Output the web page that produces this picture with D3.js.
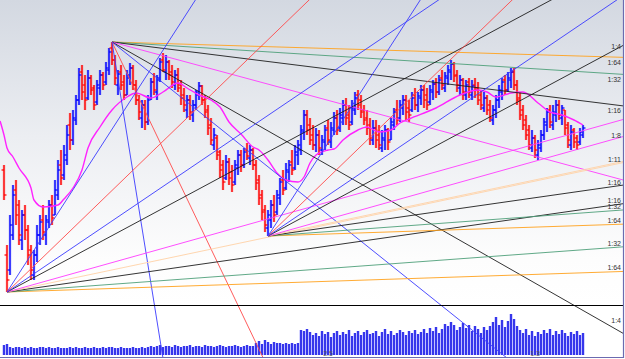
<!DOCTYPE html>
<html><head><meta charset="utf-8">
<script src="https://cdn.jsdelivr.net/npm/d3@7/dist/d3.min.js"></script>
<style>html,body{margin:0;padding:0;background:#fff;overflow:hidden}</style>
</head><body>
<svg id="c" width="625" height="359"></svg>
<script>
// ---------- DATA ----------
const hi=[135,55,85,115,120,100,90,95,75,55,50,75,85,95,85,100,105,120,140,150,155,175,187,190,205,232,235,225,230,225,215,220,230,228,238,252,258,245,230,235,225,230,237,235,220,205,200,200,205,222,227,225,242,247,245,240,235,230,232,220,212,205,205,200,210,218,215,205,195,182,172,165,150,140,145,142,135,140,150,150,152,157,155,152,140,125,110,95,90,100,105,110,122,130,137,140,150,155,160,175,190,190,182,175,172,170,165,175,180,178,188,190,192,200,202,195,200,208,210,205,195,190,182,180,180,175,170,175,172,182,192,200,200,205,205,200,208,212,208,215,215,212,215,220,222,225,230,228,235,240,238,230,225,222,220,222,220,222,218,210,208,205,200,195,205,215,222,225,228,232,232,220,208,195,185,175,170,165,160,170,182,192,195,195,200,200,195,190,178,175,172,165,172,175];
const lo=[100,8,25,60,75,55,50,60,35,20,20,38,55,60,55,72,75,85,100,115,120,135,150,155,175,195,200,190,200,205,190,195,205,210,215,225,235,215,205,210,200,205,215,210,195,180,172,170,175,200,205,200,218,228,220,220,212,210,208,195,188,182,180,178,190,200,195,182,165,155,150,140,122,110,120,115,108,115,125,128,132,140,135,130,110,95,80,68,64,72,78,85,95,105,110,118,125,130,135,145,160,165,155,150,148,145,145,150,155,152,165,165,168,175,175,170,175,185,190,182,175,165,155,155,152,150,148,150,150,160,170,175,178,185,180,178,188,190,188,195,192,190,195,200,202,205,210,208,215,220,218,208,205,200,200,202,200,202,195,190,188,185,178,175,182,192,200,205,208,212,210,195,180,170,160,150,148,142,140,148,160,168,172,170,178,180,175,165,152,150,152,150,155,162];
const op=[130,45,30,65,110,95,60,85,70,50,25,45,65,80,65,78,95,85,105,135,125,140,175,160,180,200,228,215,202,222,212,198,212,225,218,230,252,240,215,228,218,205,222,232,215,200,182,195,178,202,218,208,220,240,228,238,228,215,225,215,205,190,200,185,195,205,214,200,190,175,155,162,148,135,122,138,128,118,132,145,135,150,142,150,135,120,105,90,72,80,95,88,102,120,112,128,138,132,145,150,168,185,175,165,155,165,150,158,172,158,170,182,172,182,195,185,178,190,205,200,190,182,175,160,172,165,152,160,170,160,175,190,182,192,200,192,190,205,195,202,210,205,198,208,216,208,222,212,222,228,236,225,212,220,205,218,205,215,212,205,192,202,195,180,190,200,208,220,210,220,228,215,202,190,180,170,152,162,145,152,165,175,190,175,185,195,182,190,175,155,170,162,158,165];
const cl=[105,20,75,105,85,65,85,70,45,30,45,65,78,68,80,95,82,110,130,122,145,165,160,182,200,225,208,200,222,210,195,215,225,215,232,248,240,222,226,215,205,225,232,215,200,188,195,178,200,218,210,222,238,230,238,225,218,225,212,202,195,200,188,195,208,214,200,188,172,160,165,145,130,118,138,122,115,135,145,135,148,144,150,135,117,102,88,75,85,95,85,105,118,110,130,135,130,148,155,170,185,170,160,155,165,152,160,170,160,172,182,170,185,195,182,175,192,202,195,188,180,172,162,172,160,155,162,170,158,178,188,180,195,200,188,185,202,195,204,210,200,195,210,216,208,220,215,224,230,236,224,215,220,208,215,208,214,210,200,195,202,190,182,190,200,210,218,210,222,228,215,200,185,175,165,155,162,150,155,165,178,188,178,188,195,185,192,172,160,168,158,155,168,172];
const vol=[10,11,8,7,8,8,7,8,7,8,7,7,8,8,7,8,7,7,8,7,7,7,8,7,8,7,7,8,7,7,8,7,7,8,7,8,8,7,7,8,7,7,7,8,7,7,8,7,8,
9,8,9,10,8,9,9,8,10,9,8,9,9,10,8,9,9,8,10,9,9,8,9,10,9,8,9,9,10,9,8,9,10,9,9,
12,14,11,15,13,11,13,12,12,11,12,11,12,11,12,
25,24,26,23,
20,22,19,24,21,23,18,22,24,20,
23,21,25,19,22,24,20,23,25,21,
22,24,19,23,26,21,24,20,22,25,
23,20,24,22,25,21,23,26,22,27,
24,28,22,26,31,29,33,30,25,28,
32,27,30,24,29,26,22,28,25,29,
33,38,30,35,28,34,41,36,29,25,
22,26,20,24,19,23,21,25,22,26,
20,24,21,25,22,19,23,21,24,20,22];
const maIdx=[-1.3,0,1,3,5,9,10,13,18,20,23,26,28,32,36,41,44,49,53,58,61,65,69,72,75,79,83,85,88,91,94,98,100,102,104,108,110,113,118,121,125,129,132,135,144,152,158,161,164,169,173,178,182,186,190,193];
const maVal=[179,165,152,143,132,112,100,93,95,101,112,130,152,173,190,203,207,202,208,217,212,205,200,193,178,166,153,150,140,127,120,118,123,137,145,150,151,160,170,173,168,170,177,181,192,205,210,208,203,207,208,197,188,185,180,175];
// Gann fans: origin (bar index, price) and slopes in price per bar
const fanAOrigin=[36,258];
const fanASlopes=[-0.09,-0.19,-0.375,-0.81,-1.71,-2.4,-6.27,-18.6];
const fanALabels=["1:64","1:32","1:16","","1:4","","",""];
const fanBOrigin=[1,8];
const fanBSlopes=[0.1,0.22,0.43,0.63,0.84,1.61,2.03,2.9,4.65];
const fanBLabels=["1:64","1:32","1:16","","","","","",""];
const fanCOrigin=[88,64];
const fanCSlopes=[0.1,0.22,0.43,0.63,0.84,1.61,2.03,2.9,4.65];
const fanCLabels=["1:64","1:32","1:16","1:11","1:8","1:4","","",""];
const axisLabels=["2.5","1.3"];
const axisLabelIdx=[108,177];

// ---------- STYLE ----------
const C={blue:"#3b3bff",red:"#ff4a4a",black:"#1e1e1e",mag:"#ff3cff",green:"#4fa07a",orange:"#ffa21e",peach:"#ffd2a6"};
const fanAColors=[C.orange,C.green,C.black,C.mag,C.black,C.blue,C.red,C.blue];
const fanBColors=[C.orange,C.green,C.black,C.peach,C.mag,C.black,C.blue,C.red,C.blue];

const svg=d3.select("#c");
const W=625,H=359;
const x=d3.scaleLinear().domain([0,193]).range([4,583]);
const y=d3.scaleLinear().domain([0,300]).range([300,0]);
const yv=d3.scaleLinear().domain([0,50]).range([355,305]);

const defs=svg.append("defs");
const g=defs.append("linearGradient").attr("id","bg").attr("x1",0).attr("y1",0).attr("x2",0).attr("y2",1);
g.append("stop").attr("offset","0%").attr("stop-color","#d3d8e1");
g.append("stop").attr("offset","45%").attr("stop-color","#eceef2");
g.append("stop").attr("offset","85%").attr("stop-color","#fdfdfd");
g.append("stop").attr("offset","100%").attr("stop-color","#ffffff");
defs.append("clipPath").attr("id","clip").append("rect").attr("x",0).attr("y",0).attr("width",623).attr("height",357);

svg.append("rect").attr("width",W).attr("height",H).attr("fill","#fff");
svg.append("rect").attr("x",0).attr("y",0).attr("width",623).attr("height",305).attr("fill","url(#bg)");

// volume
const vg=svg.append("g");
vg.selectAll("rect.v").data(vol).join("rect")
  .attr("x",(d,i)=>x(i)-1.5).attr("width",3)
  .attr("y",d=>yv(d)).attr("height",d=>yv(0)-yv(d))
  .attr("fill","#a9a9ff");
vg.selectAll("line.v").data(vol).join("line")
  .attr("x1",(d,i)=>x(i)).attr("x2",(d,i)=>x(i))
  .attr("y1",d=>yv(d)).attr("y2",yv(0))
  .attr("stroke","#1a1ae6").attr("stroke-width",1.6);

// price bars
const bars=d3.range(hi.length).map(i=>({i,h:hi[i],l:lo[i],o:op[i],c:cl[i]}));
const col=d=>d.c>=d.o?"#0000ff":"#ff0000";
const bg2=svg.append("g");
bg2.selectAll("line.halo").data(bars).join("line")
  .attr("x1",d=>x(d.i)).attr("x2",d=>x(d.i)).attr("y1",d=>y(d.h)).attr("y2",d=>y(d.l))
  .attr("stroke",col).attr("stroke-opacity",0.22).attr("stroke-width",2.8);
bg2.selectAll("line.hl").data(bars).join("line")
  .attr("x1",d=>x(d.i)).attr("x2",d=>x(d.i)).attr("y1",d=>y(d.h)).attr("y2",d=>y(d.l))
  .attr("stroke",col).attr("stroke-width",1.4);
bg2.selectAll("line.o").data(bars).join("line")
  .attr("x1",d=>x(d.i)-2.5).attr("x2",d=>x(d.i)).attr("y1",d=>y(d.o)).attr("y2",d=>y(d.o))
  .attr("stroke",col).attr("stroke-width",1.2);
bg2.selectAll("line.c").data(bars).join("line")
  .attr("x1",d=>x(d.i)).attr("x2",d=>x(d.i)+2.5).attr("y1",d=>y(d.c)).attr("y2",d=>y(d.c))
  .attr("stroke",col).attr("stroke-width",1.2);

// moving average
svg.append("path").datum(maIdx.map((v,k)=>[v,maVal[k]]))
  .attr("clip-path","url(#clip)")
  .attr("d",d3.line().x(d=>x(d[0])).y(d=>y(d[1])).curve(d3.curveMonotoneX))
  .attr("fill","none").attr("stroke","#ff22ff").attr("stroke-width",1.4);

// fans
const fg=svg.append("g").attr("clip-path","url(#clip)");
const endIdx=x.invert(640);
function drawFan(origin,slopes,colors){
  slopes.forEach((s,k)=>{
    fg.append("line")
      .attr("x1",x(origin[0])).attr("y1",y(origin[1]))
      .attr("x2",x(endIdx)).attr("y2",y(origin[1]+s*(endIdx-origin[0])))
      .attr("stroke",colors[k]).attr("stroke-width",1)
      .attr("stroke-opacity",0.9);
  });
}
drawFan(fanAOrigin,fanASlopes,fanAColors);
drawFan(fanBOrigin,fanBSlopes,fanBColors);
drawFan(fanCOrigin,fanCSlopes,fanBColors);

// fan labels
const labIdx=x.invert(612);
function drawLabels(origin,slopes,labels,offFn){
  slopes.forEach((s,k)=>{
    if(!labels[k])return;
    const yy=y(origin[1]+s*(labIdx-origin[0]));
    svg.append("text").attr("x",621).attr("y",yy+offFn(s))
      .attr("text-anchor","end").attr("font-family","Liberation Sans, Arial, sans-serif")
      .attr("font-size",7).attr("fill","#333").text(labels[k]);
  });
}
drawLabels(fanAOrigin,fanASlopes,fanALabels,s=>s>-1?8:-4);
drawLabels(fanBOrigin,fanBSlopes,fanBLabels,s=>-2);
drawLabels(fanCOrigin,fanCSlopes,fanCLabels,s=>-2);

// panel separators and frame
svg.append("line").attr("x1",0).attr("x2",623).attr("y1",305.5).attr("y2",305.5).attr("stroke","#000").attr("stroke-width",1.2);
svg.append("line").attr("x1",0).attr("x2",623).attr("y1",357.5).attr("y2",357.5).attr("stroke","#6b6bb0").attr("stroke-width",1.2);
svg.append("line").attr("x1",623.5).attr("x2",623.5).attr("y1",0).attr("y2",358).attr("stroke","#6b6bb0").attr("stroke-width",1.2);

// bottom axis labels
svg.selectAll("text.ax").data(axisLabels).join("text")
  .attr("x",(d,k)=>x(axisLabelIdx[k])).attr("y",356)
  .attr("text-anchor","middle").attr("font-family","Liberation Sans, Arial, sans-serif")
  .attr("font-size",7).attr("fill","#555").text(d=>d);
</script>
</body></html>
